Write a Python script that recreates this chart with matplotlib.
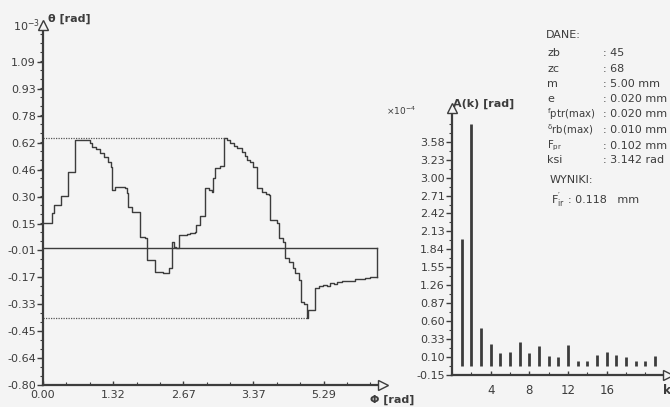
import matplotlib
matplotlib.use('Agg')
import matplotlib.pyplot as plt
import numpy as np

# ---------------- data: left chart (theta vs phi), step levels ----------------
phi = [0.000, 0.169, 0.207, 0.333, 0.470, 0.593, 0.884, 0.922, 0.997, 1.072,
       1.148, 1.223, 1.270, 1.298, 1.355, 1.552, 1.571, 1.599, 1.675, 1.769,
       1.816, 1.919, 1.962, 2.107, 2.258, 2.371, 2.418, 2.465, 2.502, 2.564,
       2.704, 2.766, 2.860, 2.879, 2.954, 3.057, 3.123, 3.180, 3.204, 3.236,
       3.330, 3.411, 3.468, 3.518, 3.594, 3.650, 3.735, 3.801, 3.829, 3.895,
       3.957, 4.017, 4.111, 4.196, 4.243, 4.271, 4.393, 4.431, 4.516, 4.544,
       4.628, 4.698, 4.741, 4.822, 4.848, 4.911, 4.961, 4.986, 5.118, 5.193,
       5.274, 5.343, 5.400, 5.475, 5.526, 5.626, 5.714, 5.870, 5.964, 6.058,
       6.152, 6.283]
theta = [0.150, 0.205, 0.254, 0.308, 0.449, 0.634, 0.617, 0.595, 0.582, 0.557,
         0.537, 0.507, 0.478, 0.342, 0.361, 0.352, 0.322, 0.244, 0.215, 0.211,
         0.068, 0.059, -0.068, -0.138, -0.144, -0.115, 0.036, 0.010, 0.004, 0.078,
         0.084, 0.090, 0.098, 0.137, 0.191, 0.352, 0.342, 0.332, 0.410, 0.472,
         0.482, 0.648, 0.634, 0.615, 0.599, 0.586, 0.566, 0.541, 0.517, 0.507,
         0.478, 0.352, 0.332, 0.318, 0.312, 0.166, 0.147, 0.059, 0.036, -0.058,
         -0.078, -0.117, -0.146, -0.185, -0.312, -0.326, -0.406, -0.361, -0.234, -0.220,
         -0.214, -0.220, -0.205, -0.209, -0.195, -0.191, -0.189, -0.182, -0.181, -0.174,
         -0.169, -0.166]
theta_mean = 0.0
theta_ticks = np.linspace(-0.80, 1.09, 13)
theta_ticklabels = ['-0.80', '-0.64', '-0.45', '-0.33', '-0.17', '-0.01', '0.15',
                    '0.30', '0.46', '0.62', '0.78', '0.93', '1.09']
phi_ticks = [0.0, 1.32, 2.64, 3.96, 5.28]
phi_ticklabels = ['0.00', '1.32', '2.67', '3.37', '5.29']

# ---------------- data: right chart (spectrum) ----------------
k = list(range(1, 22))
A = [2.02, 3.87, 0.60, 0.35, 0.20, 0.21, 0.37, 0.20, 0.31, 0.16, 0.13,
     0.33, 0.08, 0.08, 0.17, 0.21, 0.17, 0.13, 0.08, 0.08, 0.16]
A_ticks = -0.15 + 0.287 * np.arange(14)
A_ticklabels = ['-0.15', '0.10', '0.33', '0.60', '0.87', '1.26', '1.55', '1.84',
                '2.13', '2.42', '2.71', '3.00', '3.23', '3.58']
k_ticks = [4, 8, 12, 16]

# ---------------- data: text panel ----------------
dane_labels = ['zb', 'zc', 'm', 'e',
               r'$\mathregular{{}^{f}ptr(max)}$',
               r'$\mathregular{{}^{\delta}rb(max)}$',
               r'$\mathregular{F_{pr}}$', 'ksi']
dane_vals = [': 45', ': 68', ': 5.00 mm', ': 0.020 mm', ': 0.020 mm',
             ': 0.010 mm', ': 0.102 mm', ': 3.142 rad']
wynik_label = r"$\mathregular{F^{\prime}_{ir}}$"
wynik_val = ': 0.118   mm'

# ---------------- style ----------------
W, H = 670, 407
BG = '#f4f4f4'
INK = '#3c3c3c'
FS = 8
plt.rcParams['font.family'] = ['DejaVu Sans']
plt.rcParams['mathtext.fontset'] = 'dejavusans'

fig = plt.figure(figsize=(W / 100, H / 100), dpi=100, facecolor=BG)


def fx(x):
    return x / W


def fy(y):
    return 1 - y / H


# ---------------- left chart ----------------
axL = fig.add_axes([fx(43), fy(385), (383.2 - 43) / W, (385 - 24.6) / H])
axL.set_facecolor('none')
axL.set_xlim(0, 6.4)
axL.set_ylim(-0.80, 1.31)
for s in ['top', 'right']:
    axL.spines[s].set_visible(False)
for s in ['left', 'bottom']:
    axL.spines[s].set_color(INK)
    axL.spines[s].set_linewidth(1.6)

axL.step(phi, theta, where='post', color=INK, lw=1.0)
axL.plot([0, phi[-1]], [theta_mean, theta_mean], color=INK, lw=1.0)
axL.plot([phi[-1], phi[-1]], [theta[-1], theta_mean], color=INK, lw=1.0)
imax = int(np.argmax(theta))
imin = int(np.argmin(theta))
axL.plot([0, phi[imax]], [theta[imax], theta[imax]], color='#555555', lw=0.9,
         ls=(0, (1, 1)))
axL.plot([0, phi[imin]], [theta[imin], theta[imin]], color='#555555', lw=0.9,
         ls=(0, (1, 1)))

axL.set_yticks(theta_ticks)
axL.set_yticklabels(theta_ticklabels)
axL.set_yticks(np.linspace(-0.80, 1.31, 41), minor=True)
axL.set_xticks(phi_ticks)
axL.set_xticklabels(phi_ticklabels)
axL.set_xticks(np.arange(0, 6.4, 0.44), minor=True)
axL.tick_params(axis='y', which='major', direction='out', length=4, width=1,
                color=INK, labelsize=FS, labelcolor=INK, pad=1)
axL.tick_params(axis='y', which='minor', direction='out', length=2.5, width=0.8,
                color=INK)
axL.tick_params(axis='x', which='major', direction='in', length=3, width=1,
                color=INK, labelsize=FS, labelcolor=INK, pad=3.5)
axL.tick_params(axis='x', which='minor', direction='in', length=2, width=0.8,
                color=INK)
axL.plot([0], [1.31], marker='^', ms=7, mfc=BG, mec=INK, mew=1.0,
         clip_on=False, zorder=5)
axL.plot([6.4], [-0.80], marker='>', ms=7, mfc=BG, mec=INK, mew=1.0,
         clip_on=False, zorder=5)

fig.text(fx(13), fy(31), r'10$^{-3}$', fontsize=FS, color=INK, va='baseline')
fig.text(fx(48), fy(22), '\u03b8 [rad]', fontsize=FS, color=INK,
         fontweight='bold', va='baseline')
fig.text(fx(370), fy(403), '\u03a6 [rad]', fontsize=FS, color=INK,
         fontweight='bold', va='baseline')

# ---------------- right chart ----------------
axR = fig.add_axes([fx(452), fy(375), (667.6 - 452) / W, (375 - 108) / H])
axR.set_facecolor('none')
axR.set_xlim(0, 22.3)
axR.set_ylim(-0.15, 4.12)
for s in ['top', 'right']:
    axR.spines[s].set_visible(False)
for s in ['left', 'bottom']:
    axR.spines[s].set_color(INK)
    axR.spines[s].set_linewidth(1.6)
axR.vlines(k, 0, A, color=INK, lw=2.0)
axR.set_yticks(A_ticks)
axR.set_yticklabels(A_ticklabels)
axR.set_yticks(-0.15 + 0.1435 * np.arange(29), minor=True)
axR.set_xticks(k_ticks)
axR.set_xticks(np.arange(0, 22.3, 2), minor=True)
axR.tick_params(axis='y', which='major', direction='out', length=4, width=1,
                color=INK, labelsize=FS, labelcolor=INK, pad=1)
axR.tick_params(axis='y', which='minor', direction='out', length=2, width=0.8,
                color=INK)
axR.tick_params(axis='x', which='major', direction='in', length=3, width=1,
                color=INK, labelsize=FS + 0.5, labelcolor=INK, pad=6.5)
axR.tick_params(axis='x', which='minor', direction='in', length=2, width=0.8,
                color=INK)
axR.plot([0], [4.12], marker='^', ms=7, mfc=BG, mec=INK, mew=1.0,
         clip_on=False, zorder=5)
axR.plot([22.3], [-0.15], marker='>', ms=7, mfc=BG, mec=INK, mew=1.0,
         clip_on=False, zorder=5)

fig.text(fx(386), fy(115), r'$\times$10$^{-4}$', fontsize=6.5, color=INK,
         va='baseline')
fig.text(fx(453), fy(107), 'A(k) [rad]', fontsize=FS, color=INK,
         fontweight='bold', va='baseline')
fig.text(fx(663), fy(394), 'k', fontsize=FS + 1, color=INK, fontweight='bold',
         va='baseline')

# ---------------- text panel ----------------
fig.text(fx(546), fy(35), 'DANE:', fontsize=FS, color=INK, va='center')
row_y = [53, 69, 84, 99, 114, 130, 146, 160]
for lab, val, yy in zip(dane_labels, dane_vals, row_y):
    lab_fs = FS - 0.7 if lab.startswith('$') else FS
    fig.text(fx(547), fy(yy), lab, fontsize=lab_fs, color=INK, va='center')
    fig.text(fx(603), fy(yy), val, fontsize=FS, color=INK, va='center')
fig.text(fx(550), fy(180), 'WYNIKI:', fontsize=FS, color=INK, va='center')
fig.text(fx(551), fy(200), wynik_label, fontsize=FS, color=INK, va='center')
fig.text(fx(568), fy(200), wynik_val, fontsize=FS, color=INK, va='center')

fig.savefig('out.png', dpi=100, facecolor=BG)
